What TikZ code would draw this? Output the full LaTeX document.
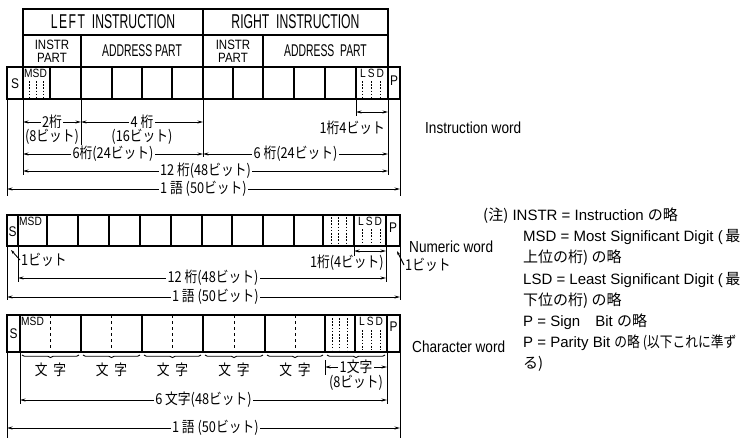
\documentclass[tikz,border=0pt]{standalone}
\usepackage{fontspec}
\setmainfont{Liberation Sans}
\newfontfamily\cnd[FakeStretch=0.61]{Liberation Sans}
\newfontfamily\cndw[FakeStretch=0.85]{Liberation Sans}
\newfontfamily\jp[FakeStretch=0.85]{Noto Sans CJK JP}
\newfontfamily\jpn{Noto Sans CJK JP}
\usetikzlibrary{arrows.meta,decorations.pathreplacing}
\newcommand\fsz[1]{\fontsize{#1}{#1}\selectfont}
\begin{document}
\begin{tikzpicture}[x=1pt,y=-1pt,
  cell/.style={draw=black, line width=1.3pt, anchor=north west, inner sep=0pt, outer sep=0pt},
  hdr/.style={cell, font=\cnd\fsz{20}},
  prt/.style={cell, font=\cnd\fsz{17}, align=center},
  prtb/.style={cell, font=\cndw\fontsize{13.5}{13}\selectfont, align=center},
  ctxt/.style={inner sep=0pt, font=\cndw\fsz{14}},
  mtxt/.style={inner sep=0pt, font=\cndw\fsz{12}},
  ext/.style={line width=0.8pt},
  dim/.style={{Stealth[length=5.5pt,width=3pt]}-{Stealth[length=5.5pt,width=3pt]}, line width=0.8pt},
  lead/.style={-{Stealth[length=4pt,width=2.5pt]}, line width=0.9pt},
  dl/.style={fill=white, inner sep=1.5pt, font=\jp\fsz{15}},
  dln/.style={inner sep=1pt, font=\jp\fsz{15}},
  dotv/.style={line width=1pt, dash pattern=on 1.6pt off 1.6pt},
  dashv/.style={line width=1pt, dash pattern=on 3pt off 3pt},
  brc/.style={decorate, decoration={brace, mirror, amplitude=2.5pt}, line width=0.9pt},
  wlab/.style={anchor=west, inner sep=0pt, font=\cndw\fsz{16}},
  note/.style={anchor=west, inner sep=0pt, font=\fsz{15}}
]
\useasboundingbox[fill=white] (0,0) rectangle (746,440);

% ================= Instruction word =================
\node[hdr, minimum width=180pt, minimum height=26pt] (lin) at (23,9) {L\kern1.5pt E\kern1.5pt F\kern1.5pt T\ \ INSTRUCTION};
\node[hdr, minimum width=185pt, minimum height=26pt] (rin) at (203,9) {RIGHT\ \ INSTRUCTION};
\node[prtb, minimum width=58pt, minimum height=32pt] (lip) at (23,35) {INSTR\\PART};
\node[prt, minimum width=122pt, minimum height=32pt] (lap) at (81,35) {ADDRESS PART};
\node[prtb, minimum width=60pt, minimum height=32pt] (rip) at (203,35) {INSTR\\PART};
\node[prt, minimum width=125pt, minimum height=32pt] (rap) at (263,35) {ADDRESS\ \ PART};
\node[cell, minimum width=16pt, minimum height=32pt] (is) at (7,67) {};
\foreach \a/\b [count=\i from 0] in {23/50,50/81,81/112,112/142,142/172,172/203,203/233,233/263,263/294,294/325,325/356,356/388}
  \node[cell, minimum width={(\b-\a)*1pt}, minimum height=32pt] (ic\i) at (\a,67) {};
\node[cell, minimum width=12pt, minimum height=32pt] (ip) at (388,67) {};
\node[ctxt] (ist) at (15,84) {S};
\node[ctxt] (ipt) at (394,81) {P};
\node[mtxt, anchor=north west] (imsd) at (24,69) {MSD};
\foreach \x in {29,36,43} \draw[dotv] (\x,81) -- (\x,98);
\node[mtxt, anchor=north] (ilsd) at (372,69) {L\,S\,D};
\foreach \x in {362,371,380} \draw[dotv] (\x,81) -- (\x,98);

% extension lines
\draw[ext] (is.south west) -- ++(0,97);
\draw[ext] (ic0.south west) -- ++(0,76);
\draw[ext] (ic2.south west) -- ++(0,47);
\draw[ext] (ic6.south west) -- ++(0,58);
\draw[ext] (ic11.south west) -- ++(0,17);
\draw[ext] (ic11.south east) -- ++(0,76);
\draw[ext] (ip.south east) -- ++(0,97);

% dimensions
\coordinate (a1) at (23,122); \coordinate (a2) at (81,122); \coordinate (a3) at (203,122);
\draw[dim] (a1) -- node[dl] (t2k) {2桁} (a2);
\draw[dim] (a2) -- node[dl] (t4k) {4 桁} (a3);
\node[dl] (t8b) at (52,137) {(8ビット)};
\node[dl] (t16b) at (142,137) {(16ビット)};
\coordinate (b1) at (356,112); \coordinate (b2) at (388,112);
\draw[dim] (b1) -- (b2);
\node[dln, anchor=east] (t14) at (386,128) {1桁4ビット};
\coordinate (c1) at (23,154); \coordinate (c2) at (203,154); \coordinate (c3) at (388,154);
\draw[dim] (c1) -- node[dl] (t6l) {6桁(24ビット)} (c2);
\draw[dim] (c2) -- node[dl] (t6r) {6 桁(24ビット)} (c3);
\coordinate (d1) at (23,171); \coordinate (d2) at (388,171);
\draw[dim] (d1) -- node[dl] (t12) {12 桁(48ビット)} (d2);
\coordinate (e1) at (7,189); \coordinate (e2) at (400,189);
\draw[dim] (e1) -- node[dl] (t50) {1 語 (50ビット)} (e2);
\node[wlab] (iword) at (425,128) {Instruction word};

% ================= Numeric word =================
\node[cell, minimum width=11pt, minimum height=31pt] (ns) at (7,215) {};
\foreach \a/\b [count=\i from 0] in {18/47,47/78,78/109,109/140,140/171,171/202,202/232,232/263,263/294,294/323,323/354,354/386}
  \node[cell, minimum width={(\b-\a)*1pt}, minimum height=31pt] (nc\i) at (\a,215) {};
\node[cell, minimum width=14pt, minimum height=31pt] (np) at (386,215) {};
\node[ctxt] (nst) at (12.5,232) {S};
\node[ctxt] (npt) at (393,228) {P};
\node[mtxt, anchor=north west] (nmsd) at (19,217) {MSD};
\foreach \x in {331,338,346} \draw[dotv] (\x,217) -- (\x,244);
\node[mtxt, anchor=north] (nlsd) at (370,217) {L\,S\,D};
\foreach \x in {362,371,380} \draw[dotv] (\x,229) -- (\x,244);

\draw[ext] (ns.south west) -- ++(0,54);
\draw[ext] (nc0.south west) -- ++(0,36);
\draw[ext] (nc11.south west) -- ++(0,10);
\draw[ext] (nc11.south east) -- ++(0,36);
\draw[ext] (np.south east) -- ++(0,54);

\coordinate (f1) at (354,251); \coordinate (f2) at (386,251);
\draw[dim] (f1) -- (f2);
\node[dln, anchor=east] (t14n) at (385,263) {1桁(4ビット)};
\coordinate (g1) at (18,278); \coordinate (g2) at (386,278);
\draw[dim] (g1) -- node[dl, pos=0.53] (t12n) {12 桁(48ビット)} (g2);
\coordinate (h1) at (7,297); \coordinate (h2) at (400,297);
\draw[dim] (h1) -- node[dl, pos=0.53] (t50n) {1 語 (50ビット)} (h2);
\node[dln, anchor=west] (t1bl) at (20,260) {1ビット};
\coordinate (s1) at (11,250);
\draw[lead] (t1bl.west) -- (s1);
\node[dln, anchor=west] (t1br) at (404,265) {1ビット};
\coordinate (s2) at (397,251);
\draw[lead] (t1br.west) -- (s2);
\node[wlab] (nword) at (409,247) {Numeric word};

% ================= Character word =================
\node[cell, minimum width=13pt, minimum height=37pt] (cs) at (7,315) {};
\foreach \a/\b [count=\i from 0] in {20/81,81/142,142/203,203/265,265/325,325/355,355/387}
  \node[cell, minimum width={(\b-\a)*1pt}, minimum height=37pt] (cc\i) at (\a,315) {};
\node[cell, minimum width=13pt, minimum height=37pt] (cp) at (387,315) {};
\node[ctxt] (cst) at (13.5,334) {S};
\node[ctxt] (cpt) at (393.5,327) {P};
\node[mtxt, anchor=north west] (cmsd) at (21,317) {MSD};
\foreach \i in {0,...,4} \draw[dashv] (cc\i.north) -- (cc\i.south);
\foreach \x in {332,339,347} \draw[dotv] (\x,318) -- (\x,350);
\node[mtxt, anchor=north] (clsd) at (371,317) {L\,S\,D};
\foreach \x in {362,371,380} \draw[dotv] (\x,330) -- (\x,350);

\foreach \a/\b in {20/81,81/142,142/203,203/265,265/325,325/387}
  \draw[brc] (\a+2,355) -- (\b-2,355);
\foreach \c [count=\i] in {50.5,111.5,172.5,234,295}
  \node[dln] (moji\i) at (\c,370) {文\hspace{6pt}字};

\draw[ext] (cs.south west) -- ++(0,86);
\draw[ext] (cc0.south west) -- ++(0,52);
\draw[ext] (cc6.south east) -- ++(0,52);
\draw[ext] (cp.south east) -- ++(0,86);
\draw[ext] (325,360) -- (325,375);

\coordinate (j1) at (325,367); \coordinate (j2) at (387,367);
\draw[dim] (j1) -- node[dl] (t1m) {1文字} (j2);
\node[dln] (t8bc) at (356,383) {(8ビット)};
\coordinate (k1) at (20,400); \coordinate (k2) at (387,400);
\draw[dim] (k1) -- node[dl] (t6m) {6 文字(48ビット)} (k2);
\coordinate (l1) at (7,428); \coordinate (l2) at (400,428);
\draw[dim] (l1) -- node[dl, pos=0.53] (t50c) {1 語 (50ビット)} (l2);
\node[wlab] (cword) at (412,347) {Character word};

% ================= Notes =================
\node[note] (n1) at (483,216) {{\jpn (注)} INSTR = Instruction {\jpn の略}};
\node[note] (n2) at (523,237) {MSD = Most Significant Digit (\,{\jpn 最}};
\node[note] (n3) at (523,258) {{\jpn 上位の桁) の略}};
\node[note] (n4) at (523,280) {LSD = Least Significant Digit (\,{\jpn 最}};
\node[note] (n5) at (523,301) {{\jpn 下位の桁) の略}};
\node[note] (n6) at (523,322) {P = Sign\quad Bit {\jpn の略}};
\node[note] (n7) at (523,343) {P = Parity Bit {\jp の略 (以下これに準ず}};
\node[note] (n8) at (523,364) {{\jpn る)}};
\end{tikzpicture}
\end{document}
